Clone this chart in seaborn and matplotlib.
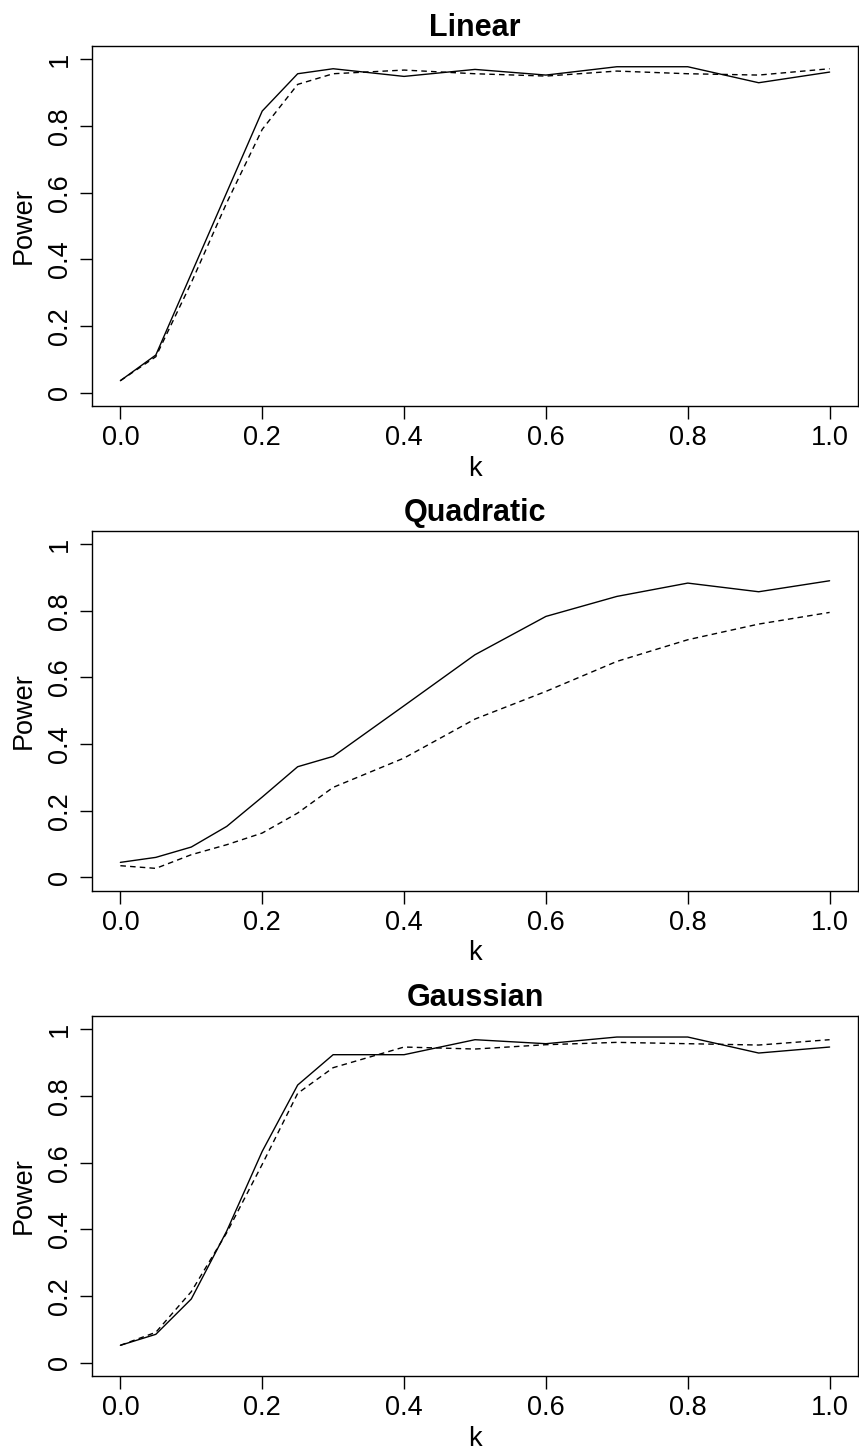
import numpy as np
import pandas as pd
import seaborn as sns
import matplotlib.pyplot as plt

# values
k = [0.0, 0.05, 0.1, 0.15, 0.2, 0.25, 0.3, 0.4, 0.5, 0.6, 0.7, 0.8, 0.9, 1.0]

linear_solid = [0.036, 0.113, 0.357, 0.601, 0.845, 0.957, 0.972, 0.949, 0.970, 0.953, 0.978, 0.978, 0.930, 0.962]
linear_dashed = [0.036, 0.108, 0.330, 0.570, 0.790, 0.925, 0.957, 0.968, 0.957, 0.950, 0.965, 0.957, 0.953, 0.972]

quad_solid = [0.045, 0.060, 0.091, 0.153, 0.241, 0.332, 0.363, 0.515, 0.668, 0.783, 0.843, 0.883, 0.857, 0.890]
quad_dashed = [0.035, 0.027, 0.068, 0.098, 0.133, 0.193, 0.270, 0.358, 0.475, 0.558, 0.648, 0.713, 0.760, 0.795]

gauss_solid = [0.052, 0.085, 0.191, 0.395, 0.634, 0.833, 0.924, 0.924, 0.969, 0.957, 0.977, 0.977, 0.929, 0.947]
gauss_dashed = [0.052, 0.091, 0.213, 0.390, 0.595, 0.808, 0.885, 0.947, 0.941, 0.954, 0.961, 0.957, 0.953, 0.969]

titles = ['Linear', 'Quadratic', 'Gaussian']
series = [(linear_solid, linear_dashed), (quad_solid, quad_dashed), (gauss_solid, gauss_dashed)]

sns.set_style('ticks')
plt.rcParams['font.family'] = ['Liberation Sans', 'DejaVu Sans']
plt.rcParams['text.color'] = 'black'
plt.rcParams['axes.labelcolor'] = 'black'
plt.rcParams['xtick.color'] = 'black'
plt.rcParams['ytick.color'] = 'black'

fig = plt.figure(figsize=(8.59, 14.49), dpi=100)
# axes boxes (left, bottom, width, height) in figure fractions
boxes = [(0.1071, 0.7198, 0.8917, 0.2484),
         (0.1071, 0.3853, 0.8917, 0.2484),
         (0.1071, 0.0504, 0.8917, 0.2484)]

for box, title, (s1, s2) in zip(boxes, titles, series):
    ax = fig.add_axes(box)
    df = pd.DataFrame({
        'k': k + k,
        'Power': s1 + s2,
        'method': ['A'] * len(k) + ['B'] * len(k),
    })
    sns.lineplot(data=df, x='k', y='Power', style='method', color='black',
                 dashes={'A': '', 'B': (4, 3)}, linewidth=1.0, legend=False, ax=ax)
    ax.set_xlim(-0.04, 1.04)
    ax.set_ylim(-0.04, 1.04)
    ax.set_xticks([0.0, 0.2, 0.4, 0.6, 0.8, 1.0])
    ax.set_xticklabels(['0.0', '0.2', '0.4', '0.6', '0.8', '1.0'])
    ax.set_yticks([0, 0.2, 0.4, 0.6, 0.8, 1.0])
    ax.set_yticklabels(['0', '0.2', '0.4', '0.6', '0.8', '1'], rotation=90, va='center')
    ax.tick_params(axis='both', length=9, width=1, labelsize=19.5, color='black', pad=5)
    for sp in ax.spines.values():
        sp.set_visible(True)
        sp.set_linewidth(1)
        sp.set_color('black')
    ax.set_title(title, fontsize=22, fontweight='bold', pad=7)
    ax.set_xlabel('k', fontsize=19.5, labelpad=3)
    ax.set_ylabel('Power', fontsize=19.5, labelpad=7)

fig.savefig('out.png', dpi=100)
